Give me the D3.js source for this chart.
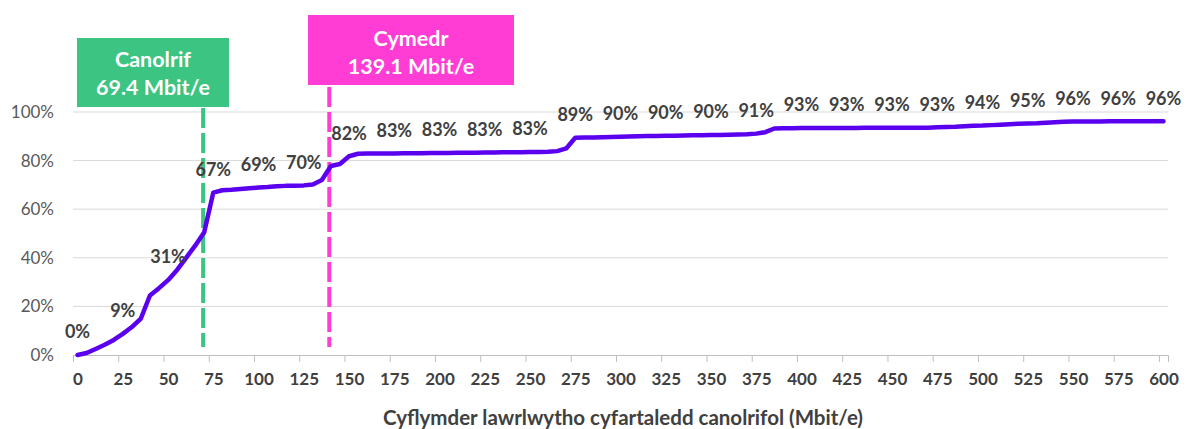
<!DOCTYPE html>
<html>
<head>
<meta charset="utf-8">
<script src="https://cdn.jsdelivr.net/npm/d3@7"></script>
<style>
  body { margin: 0; background: #fff; }
  text { font-family: Lato, "Open Sans", sans-serif; }
</style>
</head>
<body>
<div id="chart"></div>
<script>
var width = 1189;
var height = 429;

// speed (Mbit/e), every 5
var speeds = d3.range(0, 601, 5);
// cumulative share of premises (%)
var shares = [
  0, 0.8, 2.5, 4.2, 6.2, 8.7, 11.5, 15, 24.5, 27.5,
  30.8, 35, 40, 45, 50.5, 66.8, 67.8, 68, 68.3, 68.6,
  68.9, 69.1, 69.4, 69.6, 69.7, 69.8, 70.2, 72, 77.8, 78.6,
  81.8, 82.8, 82.9, 82.9, 82.9, 82.9, 83, 83, 83, 83.1,
  83.1, 83.1, 83.2, 83.2, 83.2, 83.3, 83.3, 83.4, 83.4, 83.4,
  83.5, 83.5, 83.6, 83.9, 85, 89.4, 89.5, 89.5, 89.6, 89.7,
  89.8, 89.9, 90, 90.1, 90.1, 90.2, 90.2, 90.3, 90.4, 90.4,
  90.5, 90.5, 90.6, 90.7, 90.8, 91.1, 91.7, 93.2, 93.3, 93.3,
  93.4, 93.4, 93.4, 93.4, 93.4, 93.4, 93.4, 93.5, 93.5, 93.5,
  93.5, 93.5, 93.5, 93.5, 93.5, 93.7, 93.8, 93.9, 94.1, 94.3,
  94.4, 94.6, 94.8, 95, 95.2, 95.3, 95.4, 95.6, 95.8, 96,
  96.1, 96.1, 96.1, 96.1, 96.2, 96.2, 96.2, 96.2, 96.2, 96.2, 96.2
];
var labelSpeeds = d3.range(0, 601, 25);
var labelTexts = ["0%", "9%", "31%", "67%", "69%", "70%", "82%", "83%", "83%", "83%",
  "83%", "89%", "90%", "90%", "90%", "91%", "93%", "93%", "93%", "93%",
  "94%", "95%", "96%", "96%", "96%"];
var yTicks = [0, 20, 40, 60, 80, 100];
var median = 69.4;
var mean = 139.1;
var medianLines = ["Canolrif", "69.4 Mbit/e"];
var meanLines = ["Cymedr", "139.1 Mbit/e"];
var xTitle = "Cyflymder lawrlwytho cyfartaledd canolrifol (Mbit/e)";

var data = speeds.map(function(s, i) { return { speed: s, share: shares[i] }; });

var svg = d3.select("#chart")
  .append("svg")
  .attr("width", width)
  .attr("height", height);

// category-style axis: points sit in the middle of 5-wide slots
var x = d3.scaleLinear().domain([-2.5, 602.5]).range([73, 1168]);
var y = d3.scaleLinear().domain([0, 100]).range([355, 112]);

// gridlines
svg.append("g")
  .selectAll("line")
  .data(yTicks.slice(1))
  .enter()
  .append("line")
  .attr("x1", x.range()[0])
  .attr("x2", x.range()[1])
  .attr("y1", function(d) { return y(d); })
  .attr("y2", function(d) { return y(d); })
  .style("stroke", "#d9d9d9")
  .style("stroke-width", 1);

// y axis labels
svg.append("g")
  .selectAll("text")
  .data(yTicks)
  .enter()
  .append("text")
  .attr("x", 54)
  .attr("y", function(d) { return y(d); })
  .attr("dy", "0.35em")
  .attr("text-anchor", "end")
  .style("font-size", "17px")
  .style("fill", "#595959")
  .text(function(d) { return d + "%"; });

// x axis line + tick marks at slot boundaries
var tickAxis = d3.axisBottom(x)
  .tickValues(d3.range(-2.5, 603, 25))
  .tickSize(7)
  .tickFormat("");
var gx = svg.append("g")
  .attr("transform", "translate(0," + y(0) + ")")
  .call(tickAxis);
gx.select(".domain").style("stroke", "#bfbfbf");
gx.selectAll(".tick line").style("stroke", "#bfbfbf");

// x labels
var labelAxis = d3.axisBottom(x)
  .tickValues(labelSpeeds)
  .tickSize(0)
  .tickPadding(18);
var gl = svg.append("g")
  .attr("transform", "translate(0," + y(0) + ")")
  .call(labelAxis);
gl.select(".domain").remove();
gl.selectAll("text")
  .style("font-family", "Lato, sans-serif")
  .style("font-size", "17px")
  .style("font-weight", "bold")
  .style("fill", "#404040");

// x title
svg.append("text")
  .attr("x", 623)
  .attr("y", 418)
  .attr("dy", "0.35em")
  .attr("text-anchor", "middle")
  .style("font-size", "20.5px")
  .style("font-weight", "bold")
  .style("fill", "#404040")
  .text(xTitle);

// reference lines
function refLine(v, top, color) {
  svg.append("line")
    .attr("x1", x(v))
    .attr("x2", x(v))
    .attr("y1", top)
    .attr("y2", 347)
    .style("stroke", color)
    .style("stroke-width", 4)
    .style("stroke-dasharray", "20,5");
}
refLine(median, 108, "#3cc482");
refLine(mean, 87, "#ff3cd4");

// the curve
var line = d3.line()
  .x(function(d) { return x(d.speed); })
  .y(function(d) { return y(d.share); });

svg.append("path")
  .datum(data)
  .attr("d", line)
  .style("fill", "none")
  .style("stroke", "#5a00ee")
  .style("stroke-width", 4.5)
  .style("stroke-linejoin", "round")
  .style("stroke-linecap", "round");

// data labels every 25
svg.append("g")
  .selectAll("text")
  .data(labelSpeeds)
  .enter()
  .append("text")
  .attr("x", function(d) { return x(d); })
  .attr("y", function(d) { return y(shares[d / 5]) - 23; })
  .attr("dy", "0.35em")
  .attr("text-anchor", "middle")
  .style("font-size", "18px")
  .style("font-weight", "bold")
  .style("fill", "#404040")
  .text(function(d, i) { return labelTexts[i]; });

// annotation boxes
function box(x0, y0, w, h, color, lines, ty) {
  svg.append("rect")
    .attr("x", x0)
    .attr("y", y0)
    .attr("width", w)
    .attr("height", h)
    .style("fill", color);
  svg.append("g")
    .selectAll("text")
    .data(lines)
    .enter()
    .append("text")
    .attr("x", x0 + w / 2)
    .attr("y", function(d, i) { return ty + i * 28; })
    .attr("dy", "0.35em")
    .attr("text-anchor", "middle")
    .style("font-size", "21.5px")
    .style("font-weight", "bold")
    .style("fill", "#fff")
    .text(function(d) { return d; });
}
box(77, 38, 152, 69, "#3cc482", medianLines, 59);
box(308, 15, 206, 70, "#ff3cd4", meanLines, 38);
</script>
</body>
</html>
